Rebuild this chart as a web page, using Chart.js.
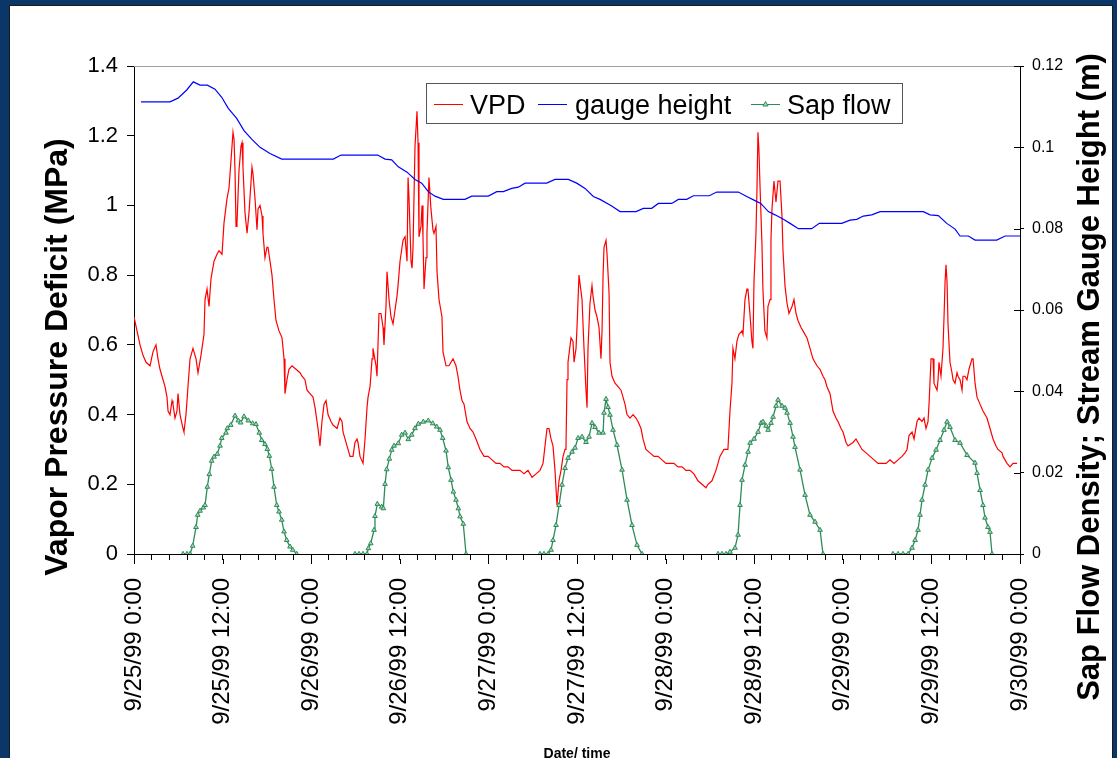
<!DOCTYPE html>
<html>
<head>
<meta charset="utf-8">
<title>VPD, gauge height and sap flow</title>
<script src="https://cdn.jsdelivr.net/npm/chart.js@4.4.1/dist/chart.umd.min.js"></script>
<style>
  html, body { margin:0; padding:0; background:#0a3768; }
  #wrap { position:relative; width:1117px; height:758px; }
</style>
</head>
<body>
<div id="wrap"><canvas id="chart"></canvas></div>
<script>
// ── Data (hours since 9/25/99 0:00) ──
const xTickLabels = ['9/25/99 0:00','9/25/99 12:00','9/26/99 0:00','9/26/99 12:00','9/27/99 0:00',
  '9/27/99 12:00','9/28/99 0:00','9/28/99 12:00','9/29/99 0:00','9/29/99 12:00','9/30/99 0:00'];
const HOURS_PER_LABEL = 12;
const MINOR_PER_LABEL = 5;

const vpdTicks = [0,0.2,0.4,0.6,0.8,1,1.2,1.4];
const vpdTickLabels = ['0','0.2','0.4','0.6','0.8','1','1.2','1.4'];
const rightTicks = [0,0.02,0.04,0.06,0.08,0.1,0.12];
const rightTickLabels = ['0','0.02','0.04','0.06','0.08','0.1','0.12'];

const vpdHours = [0,0.41,0.81,1.22,1.63,2.17,2.57,2.98,3.25,3.52,3.93,4.20,4.47,4.61,4.88,5.15,5.28,5.55,5.82,5.96,
  6.23,6.64,6.77,7.04,7.31,7.59,7.99,8.40,8.67,9.07,9.48,9.62,9.89,10.16,10.43,10.84,11.24,11.51,11.92,12.19,
  12.60,12.87,13.14,13.41,13.55,13.68,13.82,13.95,14.22,14.49,14.63,14.76,15.03,15.31,15.58,15.98,16.12,16.39,16.66,16.80,
  17.07,17.34,17.47,17.74,18.01,18.15,18.42,18.69,18.96,19.23,19.64,20.05,20.32,20.45,20.72,20.99,21.40,21.94,22.48,22.76,
  23.16,23.43,23.84,24.25,24.52,24.92,25.19,25.46,25.74,26.01,26.28,26.68,26.95,27.50,27.90,28.17,28.31,28.85,29.26,29.66,
  29.93,30.20,30.34,30.61,31.02,31.29,31.56,31.70,31.97,32.24,32.37,32.78,32.91,33.18,33.45,33.73,33.86,34.13,34.27,34.54,
  34.81,35.08,35.22,35.62,35.76,36.03,36.30,36.44,36.71,36.98,37.12,37.25,37.52,37.66,37.79,38.06,38.33,38.47,38.60,38.87,
  39.01,39.14,39.28,39.55,39.68,39.95,40.22,40.49,40.63,40.90,41.04,41.31,41.71,41.85,42.26,42.66,43.21,43.61,43.88,44.15,
  44.43,44.70,45.10,45.51,45.92,46.32,46.86,47.41,47.95,48.49,49.03,49.57,50.11,50.66,51.20,51.74,52.28,52.82,53.37,53.91,
  54.45,54.99,55.40,55.67,55.94,56.21,56.48,56.75,57.02,57.29,57.56,57.84,58.11,58.38,58.51,58.65,58.78,59.19,59.46,59.60,
  59.87,60.00,60.27,60.68,60.95,61.22,61.36,61.49,61.76,62.03,62.17,62.44,62.71,62.98,63.25,63.39,63.53,63.66,63.93,64.07,
  64.34,64.47,64.74,65.15,65.56,65.96,66.23,66.50,66.77,67.18,67.59,67.99,68.26,68.67,68.94,69.34,69.88,70.43,70.97,71.51,
  72.05,72.59,73.13,73.68,74.22,74.76,75.30,75.84,76.38,76.93,77.47,77.74,78.28,78.82,79.36,79.90,80.17,80.44,80.72,80.99,
  81.12,81.39,81.66,81.93,82.34,82.48,82.75,83.02,83.15,83.42,83.69,83.83,83.97,84.24,84.37,84.51,84.64,84.78,85.05,85.18,
  85.45,85.72,85.86,86.14,86.27,86.41,86.68,86.95,87.22,87.50,87.76,87.90,88.17,88.44,88.71,89.12,89.39,89.66,89.93,90.34,
  90.61,91.15,91.56,91.96,92.50,92.91,93.32,93.59,93.86,94.27,94.67,95.08,95.35,95.76,96.03,96.44,96.71,97.38,97.79,98.06,
  98.60,99.15,99.69,100.23,100.77,101.31,101.86,102.40,102.94,103.48,104.02,104.43,104.70,104.97,105.38,105.65,106.05,106.32,106.73,107.00,
  107.27,107.54,107.68,107.95,108.22,108.35,108.76,108.90,109.03,109.30,109.57,109.71,109.85,109.98,110.12,110.25,110.52,110.79,110.93,111.20,
  111.47,111.61,111.88,112.15,112.28,112.55,112.82,113.09,113.50,113.64,113.91,114.18,114.58,114.99,115.53,115.94,116.35,116.75,117.02,117.57,
  117.70,118.24,118.65,119.06,119.60];
const vpdValues = [0.68,0.64,0.60,0.57,0.55,0.54,0.58,0.60,0.56,0.53,0.50,0.48,0.45,0.41,0.40,0.44,0.43,0.39,0.41,0.46,
  0.40,0.36,0.35,0.40,0.48,0.56,0.59,0.56,0.52,0.57,0.63,0.73,0.76,0.71,0.79,0.84,0.86,0.87,0.86,0.95,
  1.02,1.05,1.13,1.21,1.19,1.10,0.94,0.95,1.10,1.17,1.18,1.11,0.98,0.92,0.98,1.11,1.09,1.02,0.93,0.99,
  1.00,0.97,0.92,0.85,0.88,0.88,0.84,0.80,0.73,0.67,0.64,0.62,0.56,0.46,0.50,0.53,0.54,0.53,0.52,0.51,
  0.50,0.47,0.46,0.45,0.42,0.36,0.31,0.38,0.43,0.44,0.40,0.38,0.37,0.36,0.39,0.38,0.35,0.31,0.28,0.28,
  0.32,0.33,0.32,0.28,0.26,0.33,0.42,0.45,0.48,0.56,0.59,0.54,0.51,0.69,0.69,0.65,0.60,0.71,0.81,0.73,
  0.68,0.66,0.68,0.74,0.77,0.84,0.88,0.90,0.91,0.84,1.08,1.02,0.84,0.82,0.88,1.17,1.27,1.18,0.91,0.94,
  1.00,0.91,0.76,0.85,0.92,1.08,0.99,0.93,0.92,0.94,0.81,0.73,0.68,0.58,0.54,0.54,0.56,0.54,0.51,0.47,
  0.44,0.43,0.38,0.36,0.35,0.33,0.30,0.28,0.28,0.27,0.26,0.26,0.25,0.25,0.24,0.24,0.24,0.23,0.24,0.22,
  0.23,0.24,0.26,0.31,0.36,0.36,0.33,0.31,0.24,0.14,0.21,0.24,0.28,0.30,0.31,0.50,0.55,0.62,0.61,0.55,
  0.59,0.65,0.80,0.73,0.59,0.47,0.42,0.59,0.72,0.77,0.74,0.70,0.68,0.65,0.56,0.64,0.80,0.88,0.90,0.86,
  0.75,0.55,0.51,0.49,0.48,0.47,0.45,0.43,0.40,0.39,0.40,0.39,0.38,0.36,0.33,0.30,0.29,0.28,0.28,0.27,
  0.26,0.26,0.26,0.25,0.25,0.24,0.24,0.23,0.21,0.20,0.19,0.20,0.21,0.24,0.28,0.30,0.30,0.30,0.41,0.49,
  0.59,0.56,0.61,0.63,0.64,0.63,0.73,0.76,0.76,0.69,0.61,0.59,0.78,0.92,1.04,1.21,1.16,1.06,0.89,0.76,
  0.64,0.62,0.71,0.73,0.90,0.99,1.07,1.01,1.07,1.07,0.97,0.87,0.77,0.72,0.69,0.71,0.73,0.69,0.67,0.65,
  0.64,0.62,0.59,0.56,0.54,0.53,0.51,0.50,0.48,0.46,0.41,0.39,0.38,0.36,0.35,0.32,0.31,0.32,0.33,0.32,
  0.30,0.29,0.28,0.27,0.26,0.26,0.26,0.27,0.26,0.27,0.28,0.29,0.30,0.34,0.35,0.33,0.38,0.39,0.38,0.39,
  0.36,0.38,0.43,0.56,0.56,0.49,0.47,0.50,0.55,0.51,0.59,0.68,0.78,0.83,0.78,0.66,0.55,0.52,0.50,0.49,
  0.52,0.51,0.50,0.47,0.51,0.51,0.50,0.53,0.56,0.56,0.49,0.45,0.43,0.41,0.39,0.36,0.33,0.31,0.30,0.29,
  0.28,0.26,0.25,0.26,0.26];

const gaugeHours = [0.95,4.88,5.96,7.14,8.03,8.94,9.93,10.97,11.88,12.77,13.91,14.90,15.94,17.07,18.42,20.01,27.00,28.04,33.00,34.00,
  34.90,35.80,36.98,38.06,38.97,39.86,40.77,41.89,44.83,45.74,47.99,49.13,50.02,51.16,52.05,52.96,55.90,57.02,58.83,59.96,
  61.09,62.21,63.12,64.70,65.83,68.00,68.98,70.12,71.02,72.83,73.73,74.86,75.76,77.92,78.93,81.85,82.99,84.11,84.89,85.92,
  86.82,87.95,88.86,89.98,91.79,92.82,95.86,96.98,97.89,98.78,99.92,101.05,106.91,107.82,108.94,110.08,111.21,111.88,113.01,113.91,
  116.85,117.98,120.00];
const gaugeValues = [0.1112,0.1112,0.1121,0.1141,0.1161,0.1153,0.1153,0.1143,0.1123,0.1096,0.1071,0.1041,0.1020,0.1000,0.0985,0.0971,0.0971,0.0981,0.0981,0.0971,
  0.0969,0.0952,0.0939,0.0921,0.0912,0.0891,0.0880,0.0872,0.0872,0.0880,0.0880,0.0891,0.0891,0.0899,0.0902,0.0912,0.0912,0.0921,0.0921,0.0912,
  0.0899,0.0879,0.0872,0.0856,0.0842,0.0842,0.0850,0.0850,0.0862,0.0862,0.0872,0.0872,0.0881,0.0881,0.0890,0.0890,0.0879,0.0869,0.0862,0.0842,
  0.0834,0.0823,0.0813,0.0800,0.0800,0.0813,0.0813,0.0821,0.0823,0.0831,0.0834,0.0842,0.0842,0.0834,0.0832,0.0813,0.0799,0.0782,0.0782,0.0772,
  0.0772,0.0782,0.0782];

// sap flow is only logged around each day; null breaks the line between days
const sapHours = [6.64,7.18,7.59,7.95,8.40,8.63,8.94,9.39,9.62,9.93,10.20,10.52,10.84,11.28,11.65,11.88,12.46,12.64,13.10,13.68,
  14.13,14.45,14.90,15.48,16.08,16.52,16.97,17.30,17.74,18.06,18.33,18.65,18.96,19.33,19.64,20.01,20.32,20.68,21.13,21.50,22.04,26,
  29.93,30.48,31.02,31.56,31.74,32.06,32.51,32.64,32.96,33.55,33.77,34.00,34.23,34.58,34.91,35.22,35.80,36.26,36.71,37.15,
  37.61,38.06,38.51,39.19,39.86,40.46,41.00,41.45,41.81,42.26,42.57,42.94,43.25,43.61,43.93,44.16,44.60,44.97,50,
  54.99,55.53,56.08,56.48,56.75,57.16,57.57,57.97,58.38,58.78,59.33,59.73,60.14,60.68,61.22,61.63,62.04,62.44,62.98,63.53,
  63.66,63.93,64.20,64.47,64.88,65.42,66.10,66.78,67.45,68.13,68.81,74,
  79.10,79.64,80.17,80.72,81.40,81.81,82.08,82.35,82.76,83.17,83.44,83.98,84.52,84.93,85.20,85.61,85.88,86.28,86.55,86.96,
  87.23,87.77,88.18,88.45,88.86,89.26,89.53,90.21,90.89,91.56,92.24,92.92,93.32,98,
  102.80,103.48,104.16,104.84,105.38,105.79,106.19,106.46,106.73,107.14,107.55,108.09,108.63,109.17,109.71,110.12,110.52,111.20,111.88,112.83,
  113.91,114.18,114.59,114.99,115.26,115.67,115.94,116.21];
const sapValues = [0,0,0,0.0020,0.0066,0.0096,0.0106,0.0114,0.0120,0.0165,0.0196,0.0229,0.0239,0.0246,0.0266,0.0285,0.0298,0.0309,0.0317,0.0340,
  0.0328,0.0323,0.0338,0.0328,0.0321,0.0319,0.0298,0.0280,0.0270,0.0258,0.0241,0.0209,0.0165,0.0120,0.0104,0.0084,0.0055,0.0034,0.0018,0.0010,0,null,
  0,0,0,0,0.0014,0.0026,0.0059,0.0093,0.0123,0.0116,0.0112,0.0172,0.0208,0.0234,0.0256,0.0266,0.0272,0.0293,0.0298,0.0282,
  0.0293,0.0309,0.0320,0.0325,0.0328,0.0321,0.0313,0.0305,0.0285,0.0254,0.0213,0.0182,0.0153,0.0133,0.0112,0.0092,0.0074,0,null,
  0,0,0,0.0010,0.0034,0.0071,0.0120,0.0170,0.0211,0.0236,0.0251,0.0261,0.0285,0.0288,0.0275,0.0288,0.0322,0.0312,0.0298,0.0298,
  0.0347,0.0381,0.0361,0.0342,0.0305,0.0268,0.0207,0.0133,0.0071,0.0022,0,null,
  0,0,0,0.0005,0.0015,0.0047,0.0120,0.0182,0.0219,0.0251,0.0273,0.0283,0.0300,0.0322,0.0325,0.0315,0.0305,0.0322,0.0337,0.0364,
  0.0379,0.0364,0.0359,0.0347,0.0322,0.0288,0.0263,0.0207,0.0145,0.0096,0.0079,0.0059,0,null,
  0,0,0,0,0.0015,0.0034,0.0059,0.0096,0.0133,0.0170,0.0207,0.0236,0.0256,0.0280,0.0305,0.0325,0.0312,0.0280,0.0273,0.0243,
  0.0224,0.0199,0.0157,0.0120,0.0089,0.0066,0.0054,0];

// ── Style ──
const NAVY  = '#0a3768';
const RED   = '#ff0000';
const BLUE  = '#0000ff';
const GREEN = '#2e8b57';
const GREEN_FILL = '#a6d9bb';
const FONT  = '"Liberation Sans", Arial, Helvetica, sans-serif';

Chart.defaults.font.family = FONT;
Chart.defaults.color = '#000';

const pts = (xs, ys) => xs.map((x, i) => ({ x, y: ys[i] }));
const setTicks = vals => scale => { scale.ticks = vals.map(v => ({ value: v })); };
const xMax = (xTickLabels.length - 1) * HOURS_PER_LABEL;
const xTickValues = [];
for (let i = 0; i <= (xTickLabels.length - 1) * MINOR_PER_LABEL; i++) {
  xTickValues.push(i * HOURS_PER_LABEL / MINOR_PER_LABEL);
}

// ── Frame, legend, extra tick marks and axis titles ──
const decor = {
  id: 'decor',
  beforeDraw(chart) {
    const ctx = chart.ctx;
    ctx.save();
    ctx.fillStyle = NAVY;
    ctx.fillRect(0, 0, chart.width, chart.height);
    ctx.fillStyle = '#fff';
    ctx.fillRect(10, 6, 1102, 760);
    ctx.strokeStyle = '#1a1a1a';
    ctx.lineWidth = 1;
    ctx.strokeRect(9.5, 5.5, 1103, 760);
    ctx.restore();
  },
  beforeDatasetsDraw(chart) {
    const { ctx, chartArea: a } = chart;
    ctx.save();
    ctx.strokeStyle = '#a0a0a0';
    ctx.lineWidth = 1;
    ctx.beginPath();
    ctx.moveTo(a.left, a.top + 0.5);
    ctx.lineTo(a.right, a.top + 0.5);
    ctx.stroke();
    ctx.restore();
  },
  afterDraw(chart) {
    const ctx = chart.ctx;
    const a = chart.chartArea;
    const xs = chart.scales.x, ys2 = chart.scales.y2;
    ctx.save();

    // longer ticks under the date labels, right-axis ticks crossing into the plot
    ctx.strokeStyle = '#000';
    ctx.lineWidth = 1;
    ctx.beginPath();
    xTickLabels.forEach((_, i) => {
      const px = Math.round(xs.getPixelForValue(i * HOURS_PER_LABEL)) + 0.5;
      ctx.moveTo(px, a.bottom + 5); ctx.lineTo(px, a.bottom + 10);
    });
    rightTicks.forEach(v => {
      const py = Math.round(ys2.getPixelForValue(v)) + 0.5;
      ctx.moveTo(a.right - 6, py); ctx.lineTo(a.right, py);
    });
    ctx.stroke();

    // legend box
    ctx.fillStyle = '#fff';
    ctx.fillRect(426, 83, 476, 40);
    ctx.strokeStyle = '#555';
    ctx.strokeRect(426.5, 83.5, 476, 40);
    const items = [
      { color: RED, x: 434, tx: 470, text: 'VPD' },
      { color: BLUE, x: 538, tx: 575, text: 'gauge height' },
      { color: GREEN, x: 751, tx: 787, text: 'Sap flow', marker: true },
    ];
    ctx.font = `27px ${FONT}`;
    ctx.textBaseline = 'alphabetic';
    ctx.textAlign = 'left';
    items.forEach(it => {
      ctx.strokeStyle = it.color;
      ctx.lineWidth = 1;
      ctx.beginPath();
      ctx.moveTo(it.x, 104.5);
      ctx.lineTo(it.x + 29, 104.5);
      ctx.stroke();
      if (it.marker) {
        const cx = it.x + 14.5;
        ctx.fillStyle = GREEN_FILL;
        ctx.beginPath();
        ctx.moveTo(cx, 101.5); ctx.lineTo(cx + 2.6, 106); ctx.lineTo(cx - 2.6, 106); ctx.closePath();
        ctx.fill(); ctx.stroke();
      }
      ctx.fillStyle = '#000';
      ctx.fillText(it.text, it.tx, 114);
    });

    // axis titles
    ctx.fillStyle = '#000';
    ctx.textAlign = 'center';
    ctx.font = `bold 32px ${FONT}`;
    ctx.save();
    ctx.translate(67, 357);
    ctx.rotate(-Math.PI / 2);
    ctx.fillText('Vapor Pressure Deficit (MPa)', 0, 0);
    ctx.restore();

    ctx.font = `bold 31px ${FONT}`;
    ctx.save();
    ctx.translate(1099, 377);
    ctx.rotate(-Math.PI / 2);
    ctx.fillText('Sap Flow Density; Stream Gauge Height (m)', 0, 0);
    ctx.restore();

    ctx.font = `bold 14px ${FONT}`;
    ctx.fillText('Date/ time', 577, 758);
    ctx.restore();
  }
};

new Chart(document.getElementById('chart'), {
  type: 'line',
  data: {
    datasets: [
      { label: 'VPD', data: pts(vpdHours, vpdValues), yAxisID: 'y',
        borderColor: RED, borderWidth: 1.2, pointRadius: 0, tension: 0, order: 3 },
      { label: 'gauge height', data: pts(gaugeHours, gaugeValues), yAxisID: 'y2',
        borderColor: BLUE, borderWidth: 1.2, pointRadius: 0, tension: 0, order: 2 },
      { label: 'Sap flow', data: pts(sapHours, sapValues), yAxisID: 'y2',
        borderColor: GREEN, borderWidth: 1.3, tension: 0, spanGaps: false, order: 1,
        pointStyle: 'triangle', pointRadius: 2.7, pointBorderWidth: 1,
        pointBackgroundColor: GREEN_FILL, pointBorderColor: GREEN }
    ]
  },
  options: {
    responsive: true, maintainAspectRatio: false, animation: false, events: [],
    layout: { padding: { top: 66, left: 0, right: 0, bottom: 0 } },
    plugins: { legend: { display: false }, tooltip: { enabled: false } },
    scales: {
      x: {
        type: 'linear', min: 0, max: xMax,
        afterBuildTicks: setTicks(xTickValues),
        afterFit: s => { s.height = 204; },
        grid: { drawOnChartArea: false, tickLength: 6, tickColor: '#000' },
        border: { color: '#000', width: 1 },
        ticks: { autoSkip: false, minRotation: 90, maxRotation: 90, padding: 18,
          font: { size: 24 }, color: '#000',
          callback: (v, i) => i % MINOR_PER_LABEL === 0 ? xTickLabels[i / MINOR_PER_LABEL] : '' }
      },
      y: {
        position: 'left', min: 0, max: vpdTicks[vpdTicks.length - 1],
        afterBuildTicks: setTicks(vpdTicks),
        afterFit: s => { s.width = 134; },
        grid: { drawOnChartArea: false, tickLength: 7, tickColor: '#000' },
        border: { color: '#000', width: 1 },
        ticks: { padding: 9, font: { size: 22 }, color: '#000', callback: (v, i) => vpdTickLabels[i] }
      },
      y2: {
        position: 'right', min: 0, max: rightTicks[rightTicks.length - 1],
        afterBuildTicks: setTicks(rightTicks),
        afterFit: s => { s.width = 97; },
        grid: { drawOnChartArea: false, tickLength: 4, tickColor: '#000' },
        border: { color: '#000', width: 1 },
        ticks: { padding: 8, font: { size: 16 }, color: '#000', callback: (v, i) => rightTickLabels[i] }
      }
    }
  },
  plugins: [decor]
});
</script>
</body>
</html>
